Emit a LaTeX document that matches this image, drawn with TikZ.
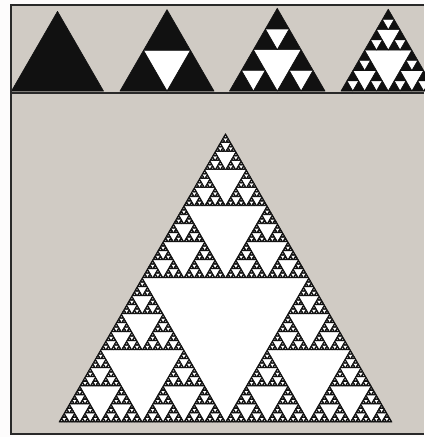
\documentclass[tikz,border=0pt]{standalone}
\definecolor{paper}{HTML}{D0CBC4}
\definecolor{ink}{HTML}{111111}
\tikzset{
  leaf/.style={fill=ink,draw=ink,line width=0.6pt,line join=round},
  hole/.style={fill=white},
  frameline/.style={draw=ink!90,line width=1.8pt}
}
% equilateral triangle pointing up: base-left (#2,#3), side #4 (y axis points down)
\newcommand\uptri[4]{%
  \pgfmathsetmacro\tXr{#2+#4}%
  \pgfmathsetmacro\tXm{#2+#4/2}%
  \pgfmathsetmacro\tYm{#3-#4*0.8660254}%
  \path[#1] (#2,#3) -- (\tXr,#3) -- (\tXm,\tYm) -- cycle;}
\newcommand\sierp[4]{% depth, x, y, side
  \ifnum#1=0\relax
    \uptri{leaf}{#2}{#3}{#4}%
  \else
    \begingroup
    \pgfmathsetmacro\sHs{#4/2}%
    \pgfmathsetmacro\sXa{#2+#4/2}%
    \pgfmathsetmacro\sXb{#2+#4/4}%
    \pgfmathsetmacro\sYb{#3-#4/2*0.8660254}%
    \pgfmathtruncatemacro\sDd{#1-1}%
    \edef\sNext{\noexpand\sierp{\sDd}{#2}{#3}{\sHs}\noexpand\sierp{\sDd}{\sXa}{#3}{\sHs}\noexpand\sierp{\sDd}{\sXb}{\sYb}{\sHs}}%
    \expandafter\endgroup\sNext
  \fi}
\newcommand\gasket[4]{%
  \uptri{hole}{#2}{#3}{#4}%
  \sierp{#1}{#2}{#3}{#4}}
\begin{document}
\begin{tikzpicture}[x=1pt,y=-1pt]
\useasboundingbox (0,0) rectangle (424,437);
\fill[white!95!paper] (0,0) rectangle (424,437);
\fill[paper] (11,5) rectangle (424,434);
% small gaskets, levels 0..3
\gasket{0}{11.5}{91}{92}
\gasket{1}{120}{91}{94}
\gasket{2}{229.5}{91}{95.5}
\gasket{3}{341}{91}{94.5}
% separator
\draw[frameline] (11,93) -- (424,93);
% large gasket
\gasket{7}{59}{422}{333}
% frame
\draw[frameline] (424,5) -- (11,5) -- (11,434) -- (424,434);
\end{tikzpicture}
\end{document}
